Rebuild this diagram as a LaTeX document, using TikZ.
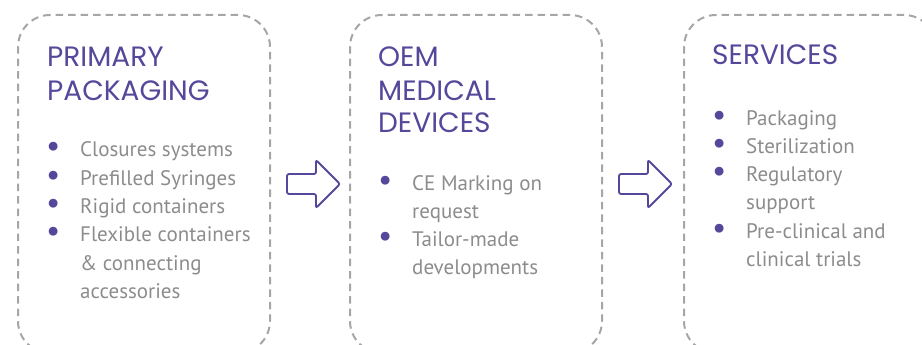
\documentclass[tikz,border=0pt]{standalone}
\usepackage{fontspec}
\usepackage{array}
\usepackage{graphicx}
\setmainfont{PT Sans}
\newfontfamily\titlefont{Poppins}
\usetikzlibrary{positioning}

\definecolor{mauve}{HTML}{55479A}
\definecolor{textgrey}{HTML}{8C8C8C}
\definecolor{dashgrey}{HTML}{A6A6A6}

\newcommand\itm[1]{\textcolor{mauve}{\scalebox{1.5}{\textbullet}}&#1\\}
\newcommand\cnt[1]{&#1\\}

\tikzset{
  panel/.style={draw=dashgrey, line width=2pt, dash pattern=on 7.5pt off 5pt,
    rounded corners=32pt, minimum width=252pt, minimum height=338pt},
  heading/.style={anchor=base west, inner sep=0pt, text=mauve,
    font=\titlefont\fontsize{28}{33}\selectfont},
  items/.style={anchor=base west, inner sep=0pt, text=textgrey,
    font=\fontsize{21}{28.3}\selectfont},
  flow/.style={draw=mauve, line width=1.8pt, rounded corners=2pt}
}

\begin{document}
\begin{tikzpicture}[x=1pt, y=-1pt]
        \useasboundingbox (0,0) rectangle (922,345);
        % boxes
        \node [panel, anchor=north west] (b1) at (17,14) {};
        \node [panel, anchor=north west] (b2) at (349,14) {};
        \node [panel, anchor=north west] (b3) at (683,14) {};
        % arrows
        \coordinate [right=16pt of b1] (a1);
        \coordinate [right=16pt of b2] (a2);
        \foreach \a in {a1,a2}
          \draw [flow] (\a) ++(0,-10) -- ++(29,0) -- ++(0,-14) -- ++(24,24)
            -- ++(-24,24) -- ++(0,-14) -- ++(-29,0) -- cycle;
        % first box
        \node [heading] (t1) at ([shift={(30pt,-53pt)}]b1.north west)
          {\begin{tabular}[t]{@{}l@{}}PRIMARY\\PACKAGING\end{tabular}};
        \node [items] (l1) at ([shift={(29pt,-143pt)}]b1.north west)
          {\begin{tabular}[t]{@{}p{34pt}@{}l@{}}
            \itm{Closures systems}
            \itm{Prefilled Syringes}
            \itm{Rigid containers}
            \itm{Flexible containers}
            \cnt{\& connecting}
            \cnt{accessories}
          \end{tabular}};
        % second box
        \node [heading] (t2) at ([shift={(29pt,-53pt)}]b2.north west)
          {\begin{tabular}[t]{@{}l@{}}OEM\\MEDICAL\\DEVICES\end{tabular}};
        \node [items] (l2) at ([shift={(29pt,-176pt)}]b2.north west)
          {\begin{tabular}[t]{@{}p{34pt}@{}l@{}}
            \itm{CE Marking on}
            \cnt{request}
            \itm{Tailor-made}
            \cnt{developments}
          \end{tabular}};
        % third box
        \node [heading] (t3) at ([shift={(29pt,-51pt)}]b3.north west)
          {\begin{tabular}[t]{@{}l@{}}SERVICES\end{tabular}};
        \node [items] (l3) at ([shift={(29pt,-111pt)}]b3.north west)
          {\begin{tabular}[t]{@{}p{34pt}@{}l@{}}
            \itm{Packaging}
            \itm{Sterilization}
            \itm{Regulatory}
            \cnt{support}
            \itm{Pre-clinical and}
            \cnt{clinical trials}
          \end{tabular}};
\end{tikzpicture}
\end{document}
